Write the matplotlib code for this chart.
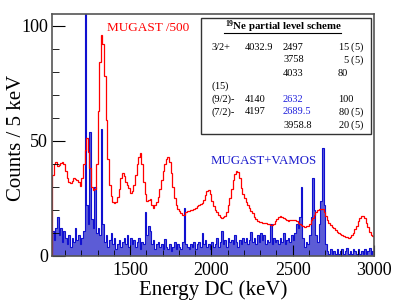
import numpy as np
import matplotlib
matplotlib.use("Agg")
import matplotlib.pyplot as plt
from matplotlib.patches import Rectangle
from matplotlib.ticker import MultipleLocator

plt.rcParams['font.family'] = ['Liberation Serif', 'DejaVu Serif']
plt.rcParams['mathtext.fontset'] = 'custom'
plt.rcParams['mathtext.rm'] = 'Liberation Serif'
plt.rcParams['mathtext.it'] = 'Liberation Serif:italic'
plt.rcParams['mathtext.bf'] = 'Liberation Serif:bold'

# 10 keV bins from 1020 to 3000 keV
edges = np.arange(1020, 3001, 10)

# MUGAST singles, scaled /500
mugast = [
    35, 40, 41, 39, 39.5, 40.5, 41, 40, 37, 34,
    32, 31.5, 32.5, 34, 33.5, 33, 32, 30.5, 34, 40,
    46, 51, 45, 38, 30, 28.5, 29, 40, 63, 84,
    96, 92, 78, 59, 42, 31, 26, 23.5, 23, 23.5,
    25.5, 29, 34, 36, 34.5, 32, 31, 29.5, 27.5, 28,
    31, 35, 40, 43, 44.5, 40, 32, 27, 24, 24.5,
    24.8, 22, 21, 22, 23.5, 25.7, 29, 33, 37, 40,
    42, 43, 41, 36, 30, 25, 22, 20.5, 19.5, 18.5,
    17.7, 18, 19, 19.5, 19.5, 20, 20, 20.5, 21, 21.5,
    22, 22.5, 23, 24.5, 26.5, 28, 28.6, 27, 24, 21.5,
    20, 19, 17.7, 17, 16.7, 17, 17.5, 19, 22, 25,
    29, 33, 35.5, 37, 36.5, 34, 29.5, 27, 25, 23.5,
    22, 21, 19.5, 18.5, 17, 16, 15.2, 14.8, 14.7, 14.5,
    14.5, 14.2, 14, 13.8, 13.5, 13.4, 14, 15, 16, 17,
    17.3, 17, 16.3, 16, 15.5, 15.3, 15.5, 15.8, 15.5, 15.5,
    15.2, 14.5, 14, 13.6, 13, 12.7, 12.8, 13.2, 14, 15.5,
    16.5, 18, 19, 19.8, 20.3, 20.6, 20.2, 19, 17.5, 15.6,
    14.5, 13.4, 12.6, 12, 11.3, 10.6, 10, 9.5, 9, 8.6,
    8.4, 8.2, 8, 8.3, 9, 10, 11.5, 13, 15, 16.5,
    17.2, 17.3, 16.6, 14.5, 12.5, 10.5, 9.3, 8.5,
]

# MUGAST + VAMOS coincidences
vamos = [
    11, 7, 12, 17, 9, 12, 6, 11, 8, 5,
    9, 4, 8, 6, 12, 7, 9, 5, 8, 11,
    150, 22, 14, 54, 16, 12, 30, 10, 12, 9,
    55, 14, 6, 9, 4, 7, 10, 5, 8, 3,
    5, 7, 4, 6, 8, 5, 9, 4, 8, 5,
    7, 4, 6, 8, 3, 6, 5, 19, 9, 13,
    11, 5, 7, 3, 5, 6, 4, 5, 3, 7.5,
    4, 3, 5, 2, 4, 6, 3, 5, 4, 3,
    6, 21, 5, 4, 3, 5, 4, 6, 3, 5,
    6, 4, 10, 5, 7, 4, 5, 3, 6, 4,
    5, 8, 4, 6, 11, 5, 7, 4, 8, 6,
    7, 5, 9, 6, 4, 7, 5, 8, 6, 8,
    5, 7, 10.5, 6, 8, 5, 9, 6, 10, 7,
    9, 5, 7, 6, 14, 5, 8, 6, 7, 5,
    8, 6, 10, 5, 7, 8, 6, 9, 7, 10,
    14, 12, 17, 30, 8, 4, 6, 5, 9, 17,
    34, 20, 9, 6, 14, 24, 47, 22, 5, 2,
    1, 3, 1, 2, 1, 3, 1, 2, 3, 1,
    2, 3.5, 1, 2, 1, 3, 2, 1, 3, 1,
    2, 1, 3, 1, 2, 3.5, 1, 2,
]

# level scheme table rows: Jpi, Ex, Egamma, branching
rows = [
    ("3/2+", "4032.9", "2497", r"15 $\mathit{(5)}$"),
    ("", "", "3758", r"5 $\mathit{(5)}$"),
    ("", "", "4033", "80"),
    (r"$\mathit{(15)}$", "", "", ""),
    ("(9/2)-", "4140", "2632", "100"),
    ("(7/2)-", "4197", "2689.5", r"80 $\mathit{(5)}$"),
    ("", "", "3958.8", r"20 $\mathit{(5)}$"),
]
blue_lines = ["2632", "2689.5"]

W, H = 415, 300
fig = plt.figure(figsize=(W / 100, H / 100), dpi=100)
ax = fig.add_axes([52 / W, 1 - 256 / H, 322 / W, 242 / H])

ax.stairs(vamos, edges, fill=True, color='#5c5cd6', lw=0)
ax.stairs(vamos, edges, color='#1010d0', lw=0.8)
ax.stairs(mugast, edges, color='#ff0000', lw=0.9)

ax.set_xlim(1020, 3000)
ax.set_ylim(0, 105)
ax.xaxis.set_major_locator(MultipleLocator(500))
ax.xaxis.set_minor_locator(MultipleLocator(100))
ax.yaxis.set_major_locator(MultipleLocator(50))
ax.yaxis.set_minor_locator(MultipleLocator(10))
ax.tick_params(which='both', direction='in', labelsize=13, top=False, right=False)
ax.tick_params(axis='y', which='major', length=9, pad=3)
ax.tick_params(axis='y', which='minor', length=5)
ax.tick_params(axis='x', which='major', length=8, pad=4)
ax.tick_params(axis='x', which='minor', length=4)
for s in ax.spines.values():
    s.set_color('#555555')
    s.set_linewidth(1.2)

ax.set_xlabel("Energy DC (keV)", fontsize=15, va='center')
ax.xaxis.set_label_coords(0.5, -0.142)
ax.set_ylabel("Counts / 5 keV", fontsize=15, va='center')
ax.yaxis.set_label_coords(-0.11, 0.49)

def px(x, y):
    return x / W, 1 - y / H

fig.text(*px(107, 28), "MUGAST /500", color='#ff0000', fontsize=9.5, va='center')
fig.text(*px(211, 161), "MUGAST+VAMOS", color='#1a1acc', fontsize=9.3, va='center')

# level scheme box
x0, y0 = px(201, 134)
x1, y1 = px(371, 18)
fig.patches.append(Rectangle((x0, y0), x1 - x0, y1 - y0, transform=fig.transFigure,
                             fill=True, facecolor='white', edgecolor='#333333', lw=1.0))
fig.text(*px(283, 27), r"$^{\mathbf{19}}$Ne partial level scheme", fontsize=7.8,
         fontweight='bold', ha='center', va='center')
ux0, uy = px(224, 33)
ux1, _ = px(341, 33)
fig.add_artist(plt.Line2D([ux0, ux1], [uy, uy], transform=fig.transFigure, color='black', lw=0.8))

cols = [211, 245, 283, 338]
row_y = [47, 60, 73, 86, 99, 112, 125]
for r, yy in zip(rows, row_y):
    for c, (cx, txt) in enumerate(zip(cols, r)):
        if not txt:
            continue
        if txt.startswith("5 "):
            cx += 5
        colr = '#2020dd' if txt in blue_lines else 'black'
        fig.text(*px(cx, yy), txt, fontsize=7.5, va='center', color=colr)

fig.savefig("out.png", dpi=100)
